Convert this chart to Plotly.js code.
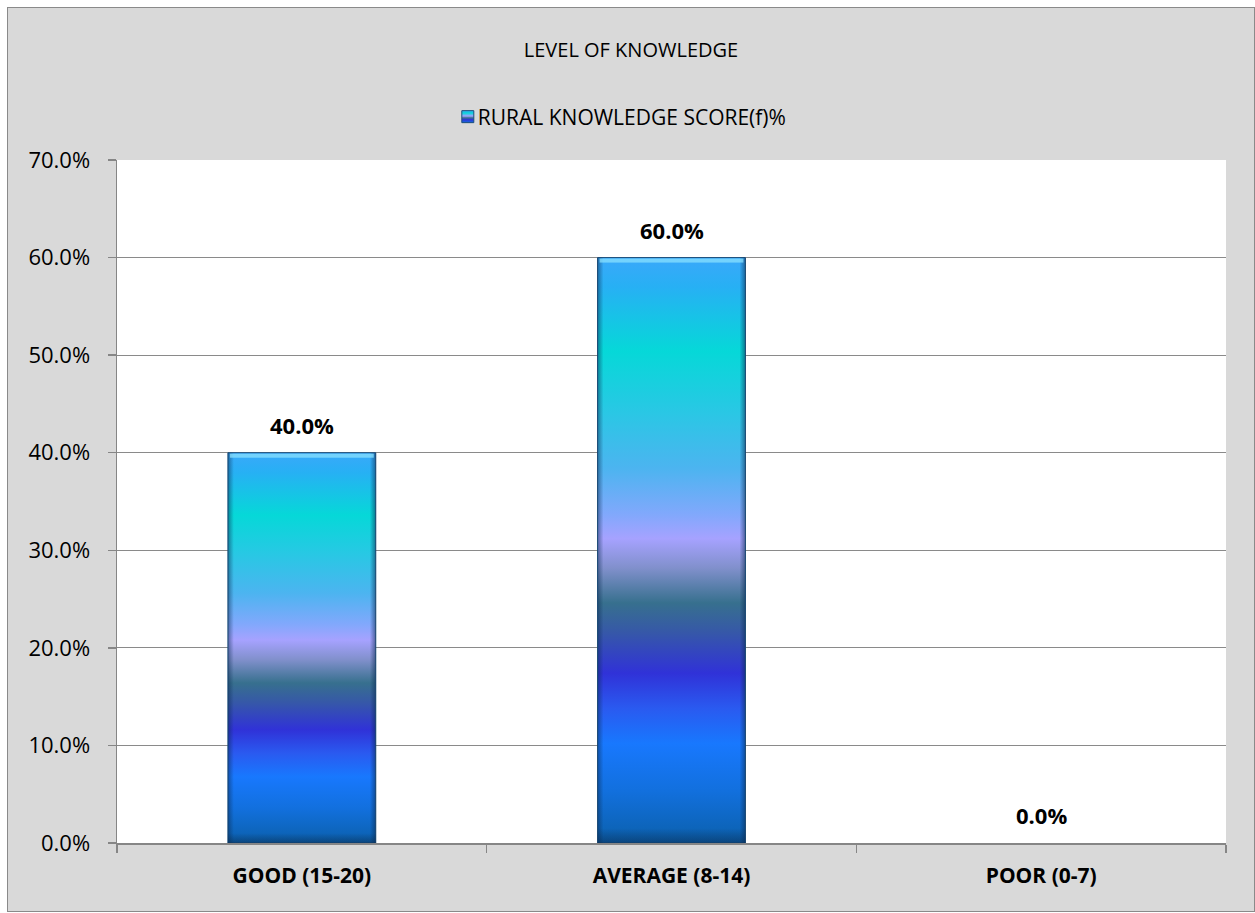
<!DOCTYPE html>
<html>
<head>
<meta charset="utf-8">
<script src="https://cdn.plot.ly/plotly-3.0.1.min.js"></script>
<style>
  html, body { margin: 0; padding: 0; background: #ffffff; }
  #chart { position: absolute; left: 7px; top: 7px; width: 1246px; height: 903px; border: 1px solid #8a8a8a; background: #d9d9d9; }
</style>
</head>
<body>
<div id="chart"></div>
<script>
// ---- data ----
const chartTitle = 'LEVEL OF KNOWLEDGE';
const seriesName = 'RURAL KNOWLEDGE SCORE(f)%';
const categories = ['GOOD (15-20)', 'AVERAGE (8-14)', 'POOR (0-7)'];
const values = [0.40, 0.60, 0.00];
const yTickValues = [0, 0.1, 0.2, 0.3, 0.4, 0.5, 0.6, 0.7];
const yTickLabels = ['0.0%', '10.0%', '20.0%', '30.0%', '40.0%', '50.0%', '60.0%', '70.0%'];
const valueLabels = values.map(v => (v * 100).toFixed(1) + '%');

const FONT = '"Open Sans", Lato, "Liberation Sans", sans-serif';
const AXIS_GRAY = '#868686';

const trace = {
  type: 'bar',
  name: seriesName,
  x: categories,
  y: values,
  marker: { color: '#1e90f0', line: { width: 0 } },
  showlegend: true,
  hoverinfo: 'none'
};

const annotations = categories.map((c, i) => ({
  x: c, y: values[i], xref: 'x', yref: 'y',
  text: '<b>' + valueLabels[i] + '</b>',
  showarrow: false, yanchor: 'middle', yshift: 28,
  font: { family: FONT, size: 22, color: '#000000' }
}));

const layout = {
  width: 1246,
  height: 903,
  paper_bgcolor: '#d9d9d9',
  plot_bgcolor: '#ffffff',
  margin: { l: 109, r: 28, t: 152, b: 68, pad: 0 },
  title: {
    text: chartTitle,
    xref: 'container', yref: 'container',
    x: 0.5, xanchor: 'center', y: 1 - 42 / 903, yanchor: 'middle',
    font: { family: FONT, size: 20, color: '#000000' }
  },
  showlegend: true,
  legend: {
    orientation: 'h',
    xref: 'container', yref: 'container',
    x: 0.487, xanchor: 'center', y: 1 - 109 / 903, yanchor: 'middle',
    bgcolor: 'rgba(0,0,0,0)',
    font: { family: FONT, size: 21, color: '#000000' },
    itemwidth: 30
  },
  bargap: 0.6,
  xaxis: {
    type: 'category',
    showgrid: false,
    showline: true, linecolor: AXIS_GRAY, linewidth: 1.5,
    ticks: 'outside', tickson: 'boundaries', ticklen: 8, tickcolor: AXIS_GRAY, tickwidth: 1.5,
    ticklabelstandoff: 13,
    tickfont: { family: FONT, size: 21, color: '#000000', weight: 'bold' },
    zeroline: false, fixedrange: true
  },
  yaxis: {
    range: [0, 0.7],
    tickvals: yTickValues,
    ticktext: yTickLabels,
    showgrid: true, gridcolor: '#8a8a8a', gridwidth: 1,
    showline: true, linecolor: AXIS_GRAY, linewidth: 1.5,
    ticks: 'outside', ticklen: 8, tickcolor: AXIS_GRAY, tickwidth: 1.5,
    ticklabelstandoff: 13,
    tickfont: { family: FONT, size: 22, color: '#000000' },
    zeroline: false, fixedrange: true
  },
  annotations: annotations
};

const stops = [
  [0.00, '#3aa8fa'], [0.05, '#27b0f4'], [0.16, '#06d8d8'], [0.26, '#28c8e4'],
  [0.36, '#4cb4f0'], [0.44, '#82a8fc'], [0.48, '#a6a2ff'], [0.53, '#8190cc'],
  [0.59, '#37708e'], [0.64, '#3658a8'], [0.71, '#3032d8'], [0.77, '#2a5af0'],
  [0.83, '#1878fe'], [0.91, '#1270de'], [1.00, '#0b60ac']
];

function addGradients(gd) {
  const NS = 'http://www.w3.org/2000/svg';
  const svg = gd.querySelector('svg.main-svg');
  let defs = svg.querySelector('defs');
  if (!defs) { defs = document.createElementNS(NS, 'defs'); svg.insertBefore(defs, svg.firstChild); }
  function lg(id, x2, y2, list) {
    const g = document.createElementNS(NS, 'linearGradient');
    g.setAttribute('id', id);
    g.setAttribute('x1', '0'); g.setAttribute('y1', '0');
    g.setAttribute('x2', x2); g.setAttribute('y2', y2);
    list.forEach(s => {
      const st = document.createElementNS(NS, 'stop');
      st.setAttribute('offset', s[0]);
      st.setAttribute('stop-color', s[1]);
      st.setAttribute('stop-opacity', s[2] === undefined ? 1 : s[2]);
      g.appendChild(st);
    });
    defs.appendChild(g);
  }
  lg('barGrad', '0', '1', stops);
  lg('barEdge', '1', '0', [[0, '#0a2a50', 0.5], [0.04, '#0a2a50', 0], [0.96, '#0a2a50', 0], [1, '#0a2a50', 0.55]]);
  lg('barBottom', '0', '1', [[0, '#0a2a50', 0], [0.975, '#0a2a50', 0], [1, '#0a2a50', 0.5]]);
  lg('legGrad', '0', '1', [[0, '#3aa8fa'], [0.2, '#06d8d8'], [0.45, '#a6a2ff'], [0.6, '#37708e'], [0.75, '#3032d8'], [1, '#1270de']]);

  gd.querySelectorAll('.barlayer .point path').forEach((p, i) => {
    if (!values[i]) { p.style.fill = 'none'; return; }
    p.style.fill = 'url(#barGrad)';
    p.style.stroke = '#1c4f7c';
    p.style.strokeWidth = '1px';
    p.style.strokeOpacity = '1';
    ['barEdge', 'barBottom'].forEach(id => {
      const o = p.cloneNode(true);
      o.style.fill = 'url(#' + id + ')';
      o.style.stroke = 'none';
      p.parentNode.appendChild(o);
    });
    const bb = p.getBBox();
    const r = document.createElementNS(NS, 'rect');
    r.setAttribute('x', bb.x + 2); r.setAttribute('y', bb.y + 1);
    r.setAttribute('width', Math.max(0, bb.width - 4)); r.setAttribute('height', 4);
    r.setAttribute('fill', '#8ee6ff'); r.setAttribute('opacity', '0.7');
    p.parentNode.appendChild(r);
  });
  gd.querySelectorAll('.legend .legendpoints').forEach(g => {
    g.setAttribute('transform', 'translate(10,0)');
    g.querySelectorAll('path').forEach(p => {
      p.style.fill = 'url(#legGrad)';
      p.style.stroke = '#1c4f7c';
      p.style.strokeWidth = '1px';
    });
  });
}

Plotly.newPlot('chart', [trace], layout, { displayModeBar: false, staticPlot: true })
  .then(addGradients);
</script>
</body>
</html>
